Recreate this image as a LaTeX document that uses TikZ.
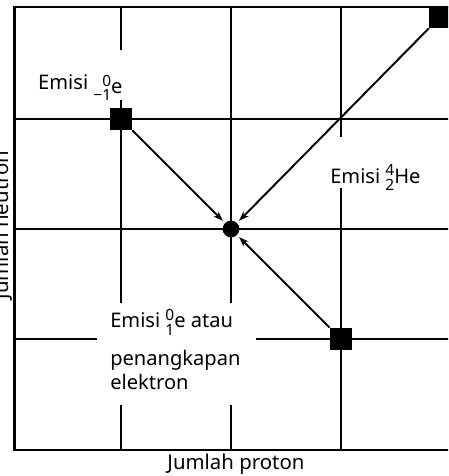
\documentclass[tikz,border=0pt]{standalone}
\usepackage{fontspec}
\setmainfont{Noto Sans}
\usetikzlibrary{arrows.meta}
\newcommand{\nuclide}[3]{{\fontsize{11}{11}\selectfont\renewcommand{\arraystretch}{0.78}\setlength{\tabcolsep}{0pt}\begin{tabular}[c]{r}#1\\#2\end{tabular}}#3}
\tikzset{
  frameline/.style={line width=2.1pt},
  gridline/.style={line width=1.6pt},
  parent/.style={draw=none, fill=black, minimum size=0.55cm, inner sep=0pt},
  daughter/.style={circle, fill=black, minimum size=0.42cm, inner sep=0pt},
  decay/.style={-{Stealth[length=7pt,width=5pt]}, line width=1.4pt, shorten >=2pt},
  tag/.style={font=\fontsize{14.3}{17}\selectfont, inner sep=0pt, align=left},
  axis/.style={font=\fontsize{14.5}{17}\selectfont, inner sep=0pt},
}
\begin{document}
\begin{tikzpicture}[x=2.75cm,y=2.75cm]
  \clip (-2.1,-2.2455) rectangle (1.9727,2.0818);
  % frame
  \draw[frameline] (2.2,2.018) -- (-1.964,2.018) -- (-1.964,-2.009) -- (2.2,-2.009);
  % grid, broken round the labels
  \draw[gridline] (-1.964,1) -- (2.2,1);
  \draw[gridline] (-1.964,0) -- (2.2,0);
  \draw[gridline] (-1.964,-1) -- (-1.218,-1) (0.227,-1) -- (2.2,-1);
  \draw[gridline] (-1,2.018) -- (-1,1.627) (-1,1.173) -- (-1,-0.673) (-1,-1.6) -- (-1,-2.009);
  \draw[gridline] (0,2.018) -- (0,-0.673) (0,-1.6) -- (0,-2.009);
  \draw[gridline] (1,2.018) -- (1,0.836) (1,0.373) -- (1,-2.009);
  % nuclei
  \node[daughter] (core) at (0,0) {};
  \node[parent] (betaminus) at (-1,1) {};
  \node[parent] (alpha) at (1.9,1.927) {};
  \node[parent] (betaplus) at (1,-1) {};
  \draw[decay] (betaminus) -- (core);
  \draw[decay] (alpha) -- (core);
  \draw[decay] (betaplus) -- (core);
  % labels
  \node[tag,anchor=base west] (tagminus) at (-1.755,1.264) {Emisi \raisebox{-0.35ex}{\nuclide{0}{−1}{e}}};
  \node[tag,anchor=base west] (tagalpha) at (0.9,0.418) {Emisi \nuclide{4}{2}{He}};
  \node[tag,anchor=base west] (tagplus) at (-1.1,-1.455) {Emisi \nuclide{0}{1}{e} atau\\[7pt]penangkapan\\elektron};
  \node[axis,anchor=base] (xlabel) at (0.045,-2.19) {Jumlah proton};
  \node[axis,anchor=base,rotate=90] (ylabel) at (-2.027,0.036) {Jumlah neutron};
\end{tikzpicture}
\end{document}
